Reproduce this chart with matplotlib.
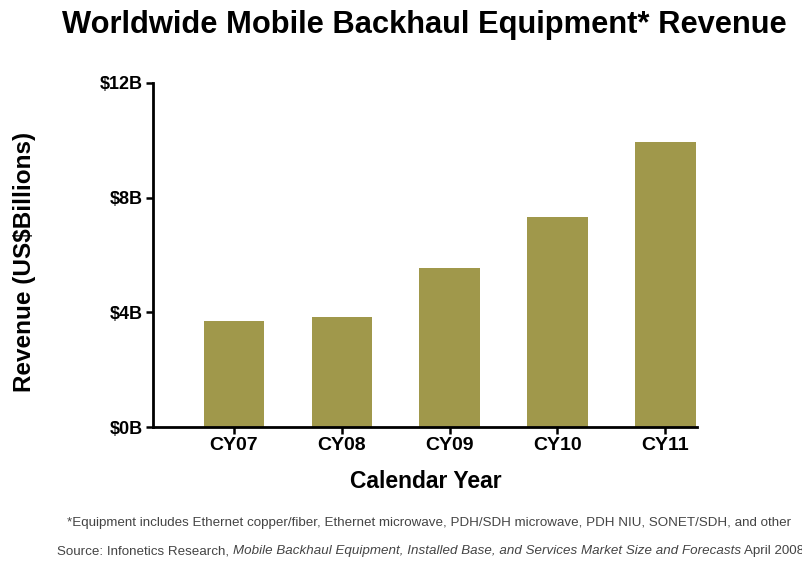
import matplotlib.pyplot as plt

plt.rcParams['font.family'] = ['Liberation Sans', 'DejaVu Sans']

years = ['CY07', 'CY08', 'CY09', 'CY10', 'CY11']
revenue = [3.70, 3.84, 5.53, 7.34, 9.95]
yticks = [0, 4, 8, 12]
ytick_labels = ['$0B', '$4B', '$8B', '$12B']

fig = plt.figure(figsize=(8.03, 5.65), dpi=100)
ax = fig.add_axes([0.1905, 0.2442, 0.677, 0.609])

ax.bar(range(len(years)), revenue, width=0.56, color='#A0984B')

ax.set_xlim(-0.75, 4.29)
ax.set_ylim(0, 12)
ax.set_xticks(range(len(years)))
ax.set_xticklabels(years, fontsize=14, fontweight='bold')
ax.set_yticks(yticks)
ax.set_yticklabels(ytick_labels, fontsize=13, fontweight='bold')
ax.tick_params(width=1.8, length=5, pad=2)

for s in ['top', 'right']:
    ax.spines[s].set_visible(False)
for s in ['left', 'bottom']:
    ax.spines[s].set_linewidth(2)

fig.text(0.53, 1 - 482 / 565, 'Calendar Year', ha='center', va='center',
         fontsize=16.5, fontweight='bold')
fig.text(0.030, 1 - 262 / 565, 'Revenue (US$Billions)', ha='center', va='center',
         rotation=90, fontsize=17.5, fontweight='bold')

fig.text(0.529, 0.955, 'Worldwide Mobile Backhaul Equipment* Revenue',
         ha='center', va='center', fontsize=22.2, fontweight='bold')

# footnotes
fig.text(0.534, 1 - 523 / 565,
         '*Equipment includes Ethernet copper/fiber, Ethernet microwave, PDH/SDH microwave, '
         'PDH NIU, SONET/SDH, and other',
         ha='center', va='center', fontsize=9.6, color='#444444')

parts = [('Source: Infonetics Research, ', 'normal'),
         ('Mobile Backhaul Equipment, Installed Base, and Services Market Size and Forecasts', 'italic'),
         (' April 2008', 'normal')]
t = fig.text(57 / 803, 1 - 551 / 565, parts[0][0], ha='left', va='center', fontsize=9.6,
             color='#444444', style=parts[0][1])
for txt, st in parts[1:]:
    t = ax.annotate(txt, xy=(1, 0), xycoords=t, ha='left', va='bottom',
                    fontsize=9.6, color='#444444', style=st, annotation_clip=False)

fig.savefig('out.png', dpi=100)
